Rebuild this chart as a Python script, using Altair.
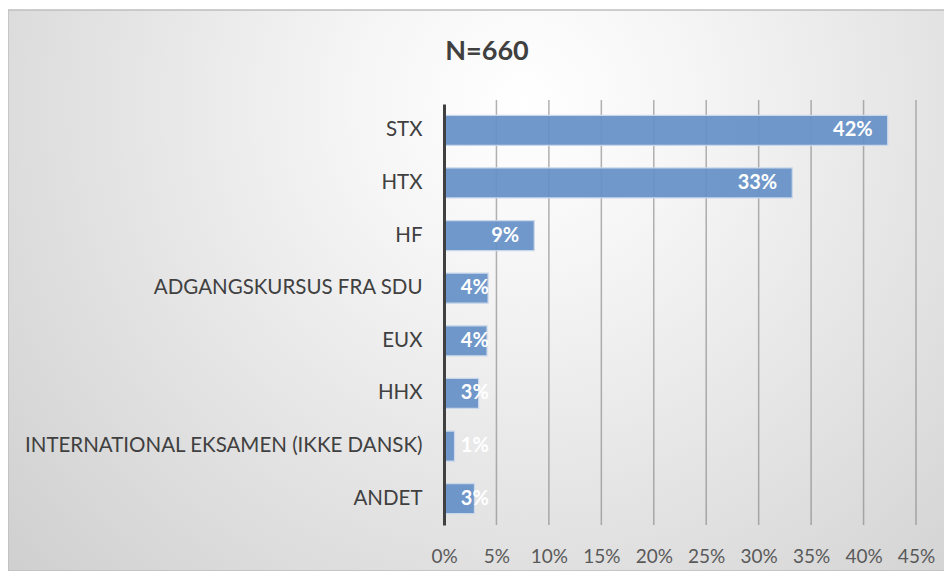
import altair as alt
import pandas as pd

# ---- data ----
categories = [
    "STX",
    "HTX",
    "HF",
    "ADGANGSKURSUS FRA SDU",
    "EUX",
    "HHX",
    "INTERNATIONAL EKSAMEN (IKKE DANSK)",
    "ANDET",
]
shares = [0.423, 0.332, 0.086, 0.042, 0.041, 0.033, 0.010, 0.029]
tick_values = [0.0, 0.05, 0.10, 0.15, 0.20, 0.25, 0.30, 0.35, 0.40, 0.45]
title_text = ["N=660"]

FONT = "Lato"
W, H = 472, 421
PAD_B = 46
PAD_R = 28

df = pd.DataFrame({"category": categories, "share": shares})
grid_df = pd.DataFrame({"tick": tick_values[1:]})
title_df = pd.DataFrame({"t": title_text})

x_scale = alt.Scale(domain=[0, 0.45], nice=False, zero=True)
y_scale = alt.Scale(paddingInner=0.43, paddingOuter=0.215)

x_axis = alt.Axis(
    values=tick_values, format=".0%", grid=False, domain=False, ticks=False,
    labelFont=FONT, labelFontSize=19, labelColor="#595959",
    labelPadding=22, zindex=1, title=None,
    labelOverlap=False, labelFlush=False, labelBound=False,
)

bg = alt.Chart(pd.DataFrame({"a": [0]})).mark_rect(
    fill=alt.Gradient(
        gradient="radial",
        stops=[
            alt.GradientStop(color="#ffffff", offset=0),
            alt.GradientStop(color="#f6f6f6", offset=0.2),
            alt.GradientStop(color="#c8c8c8", offset=1),
        ],
        x1=0.55, y1=0.3, x2=0.55, y2=0.3, r1=0, r2=0.85,
    ),
    stroke="#bfbfbf",
    strokeWidth=1.5,
).encode(
    x=alt.value(-436), x2=alt.value(W + PAD_R + 2),
    y=alt.value(-94), y2=alt.value(H + PAD_B),
)

grid = alt.Chart(grid_df).mark_rule(
    color="#7f7f7f", strokeWidth=1.5, opacity=0.6
).encode(
    x=alt.X("tick:Q", scale=x_scale, axis=x_axis),
    y=alt.value(-4),
    y2=alt.value(H),
)

bars = alt.Chart(df).mark_bar(
    color="#6590c6", fillOpacity=0.93, stroke="#c9d7ea", strokeWidth=1.2
).encode(
    x=alt.X("share:Q", scale=x_scale, axis=x_axis),
    y=alt.Y(
        "category:N",
        sort=categories,
        scale=y_scale,
        axis=alt.Axis(
            title=None, ticks=False, domainColor="#404040", domainWidth=3,
            labelPadding=22, labelFont=FONT, labelFontSize=20.5,
            labelColor="#404040", zindex=1, labelLimit=0,
        ),
    ),
)

labels = alt.Chart(df).transform_calculate(
    pos="max(datum.share, 0.057)"
).mark_text(
    align="right", baseline="middle", dx=-15, color="white",
    fontWeight="bold", fontSize=20, font=FONT,
).encode(
    x=alt.X("pos:Q", scale=x_scale, axis=x_axis),
    y=alt.Y("category:N", sort=categories, scale=y_scale),
    text=alt.Text("share:Q", format=".0%"),
)

title = alt.Chart(title_df).mark_text(
    fontSize=27, fontWeight="bold", font=FONT, color="#404040",
    align="center", baseline="middle",
).encode(text="t:N", x=alt.value(43), y=alt.value(-52))

chart = alt.layer(bg, grid, bars, labels, title).properties(
    width=W,
    height=H,
    autosize=alt.AutoSizeParams(type="none"),
    padding={"left": 436, "top": 96, "right": PAD_R, "bottom": PAD_B},
).configure_view(stroke=None)

chart.save("out.html", embed_options={"renderer": "svg", "actions": False})
